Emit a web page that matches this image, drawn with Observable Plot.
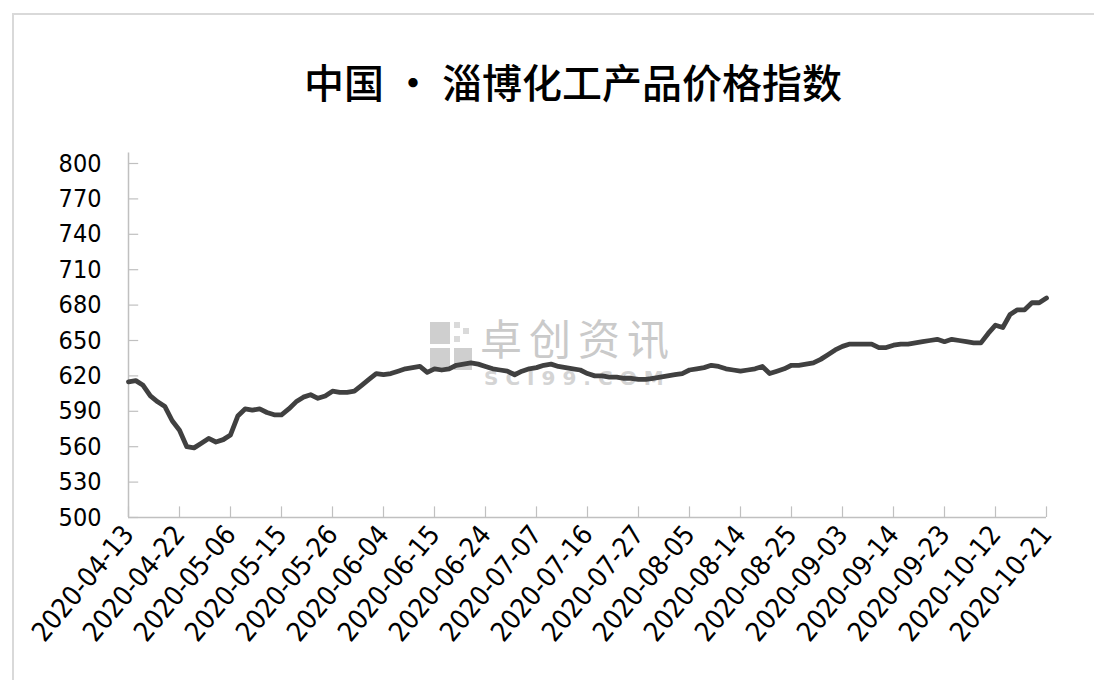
<!DOCTYPE html>
<html>
<head>
<meta charset="utf-8">
<script src="https://cdn.jsdelivr.net/npm/d3@7"></script>
<script src="https://cdn.jsdelivr.net/npm/@observablehq/plot@0.6"></script>
<style>
  html, body { margin: 0; padding: 0; background: #fff; width: 1094px; height: 680px; overflow: hidden; }
  #frame { position: absolute; left: 12px; top: 13px; width: 1200px; height: 800px; border: 2px solid #d9d9d9; box-sizing: border-box; }
  #title { position: absolute; left: 0; top: 56px; width: 1146px; text-align: center; font-family: "Noto Sans CJK SC", sans-serif; font-size: 40px; font-weight: 500; color: #000; line-height: 50px; }
  #wm { position: absolute; left: 430px; top: 295px; overflow: visible; }
  #chart { position: absolute; left: 0; top: 140px; }
</style>
</head>
<body>
<div id="frame"></div>
<svg id="wm" width="300" height="110">
  <rect x="0" y="27" width="20" height="22" fill="#cfcfcf"/>
  <rect x="24" y="27" width="6" height="6" fill="#dadada"/>
  <rect x="33" y="33" width="6" height="6" fill="#dadada"/>
  <rect x="24" y="41" width="6" height="6" fill="#dadada"/>
  <rect x="0" y="53" width="20" height="22" fill="#cfcfcf"/>
  <rect x="24" y="53" width="18" height="22" fill="#cfcfcf"/>
  <text x="50" y="60" font-family="Noto Sans CJK SC, sans-serif" font-size="42" letter-spacing="7" fill="#cacaca">卓创资讯</text>
  <text x="54" y="90" font-family="DejaVu Sans, sans-serif" font-size="20" font-weight="bold" letter-spacing="7" fill="#d4d4d4">SCI99.COM</text>
</svg>
<div id="title">中国 • 淄博化工产品价格指数</div>
<div id="chart"></div>
<script>
const dates = [
"2020-04-13","2020-04-14","2020-04-15","2020-04-16","2020-04-17","2020-04-20","2020-04-21",
"2020-04-22","2020-04-23","2020-04-24","2020-04-27","2020-04-28","2020-04-29","2020-04-30",
"2020-05-06","2020-05-07","2020-05-08","2020-05-11","2020-05-12","2020-05-13","2020-05-14",
"2020-05-15","2020-05-18","2020-05-19","2020-05-20","2020-05-21","2020-05-22","2020-05-25",
"2020-05-26","2020-05-27","2020-05-28","2020-05-29","2020-06-01","2020-06-02","2020-06-03",
"2020-06-04","2020-06-05","2020-06-08","2020-06-09","2020-06-10","2020-06-11","2020-06-12",
"2020-06-15","2020-06-16","2020-06-17","2020-06-18","2020-06-19","2020-06-22","2020-06-23",
"2020-06-24","2020-06-29","2020-06-30","2020-07-01","2020-07-02","2020-07-03","2020-07-06",
"2020-07-07","2020-07-08","2020-07-09","2020-07-10","2020-07-13","2020-07-14","2020-07-15",
"2020-07-16","2020-07-17","2020-07-20","2020-07-21","2020-07-22","2020-07-23","2020-07-24",
"2020-07-27","2020-07-28","2020-07-29","2020-07-30","2020-07-31","2020-08-03","2020-08-04",
"2020-08-05","2020-08-06","2020-08-07","2020-08-10","2020-08-11","2020-08-12","2020-08-13",
"2020-08-14","2020-08-17","2020-08-18","2020-08-19","2020-08-20","2020-08-21","2020-08-24",
"2020-08-25","2020-08-26","2020-08-27","2020-08-28","2020-08-31","2020-09-01","2020-09-02",
"2020-09-03","2020-09-04","2020-09-07","2020-09-08","2020-09-09","2020-09-10","2020-09-11",
"2020-09-14","2020-09-15","2020-09-16","2020-09-17","2020-09-18","2020-09-21","2020-09-22",
"2020-09-23","2020-09-24","2020-09-25","2020-09-28","2020-09-29","2020-09-30","2020-10-09",
"2020-10-12","2020-10-13","2020-10-14","2020-10-15","2020-10-16","2020-10-19","2020-10-20",
"2020-10-21"
];
const values = [
615,616,612,603,598,594,582,
574,560,559,563,567,564,566,
570,586,592,591,592,589,587,
587,592,598,602,604,601,603,
607,606,606,607,612,617,622,
621,622,624,626,627,628,623,
626,625,626,629,630,631,630,
628,626,625,624,621,624,626,
627,629,630,628,627,626,625,
622,620,620,619,619,618,618,
617,617,618,619,620,621,622,
625,626,627,629,628,626,625,
624,625,626,628,622,624,626,
629,629,630,631,634,638,642,
645,647,647,647,647,644,644,
646,647,647,648,649,650,651,
649,651,650,649,648,648,656,
663,661,672,676,676,682,682,
686
];
const tickLabels = ["2020-04-13","2020-04-22","2020-05-06","2020-05-15","2020-05-26","2020-06-04","2020-06-15","2020-06-24","2020-07-07","2020-07-16","2020-07-27","2020-08-05","2020-08-14","2020-08-25","2020-09-03","2020-09-14","2020-09-23","2020-10-12","2020-10-21"];
const yTicks = [500,530,560,590,620,650,680,710,740,770,800];

const data = dates.map((d, i) => ({i, date: d, value: values[i]}));
const xTicks = tickLabels.map(t => dates.indexOf(t));

const axisColor = "#c0c0c0";
const font = '"DejaVu Sans Condensed", "DejaVu Sans", sans-serif';

const chart = Plot.plot({
  width: 1094,
  height: 540,
  marginLeft: 128,
  marginRight: 48,
  marginTop: 23,
  marginBottom: 163,
  style: {fontFamily: font, background: "transparent", overflow: "visible"},
  x: {domain: [0, dates.length - 1]},
  y: {domain: [500, 800]},
  marks: [
    Plot.ruleX([0], {y1: 500, y2: 809, stroke: axisColor, strokeWidth: 1.5}),
    Plot.ruleY([500], {x1: 0, x2: dates.length - 1, stroke: axisColor, strokeWidth: 1.5}),
    Plot.ruleY(yTicks, {x1: 0, x2: 1.4, stroke: axisColor, strokeWidth: 1.2}),
    Plot.ruleX(xTicks, {y1: 500, y2: 509, stroke: axisColor, strokeWidth: 1.2}),
    Plot.axisY({ticks: yTicks, tickSize: 0, tickPadding: 27, fontSize: 25, fill: "#000", label: null}),
    Plot.axisX({ticks: xTicks, tickSize: 0, tickPadding: 12, tickRotate: -50, fontSize: 27, fill: "#000", label: null,
      tickFormat: i => dates[i]}),
    Plot.line(data, {x: "i", y: "value", stroke: "#404040", strokeWidth: 4.8, strokeLinejoin: "round", strokeLinecap: "round"})
  ]
});
document.getElementById("chart").appendChild(chart);
</script>
</body>
</html>
